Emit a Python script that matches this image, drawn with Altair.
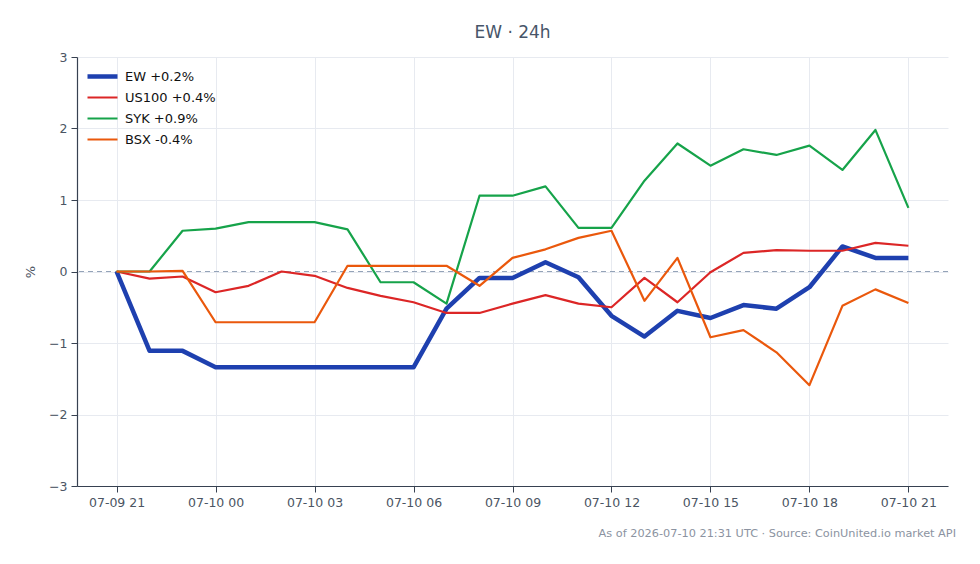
import altair as alt
import pandas as pd

# Hourly timestamps over the 24h window
times = pd.date_range("2026-07-09 21:00", periods=25, freq="h").strftime("%Y-%m-%dT%H:%M:%S").tolist()

# Percent change vs. window start
ew = [0.0, -1.11, -1.11, -1.34, -1.34, -1.34, -1.34, -1.34, -1.34, -1.34,
      -0.52, -0.09, -0.09, 0.13, -0.08, -0.62, -0.91, -0.55, -0.65, -0.47,
      -0.52, -0.22, 0.35, 0.19, 0.19]
us100 = [0.0, -0.10, -0.07, -0.29, -0.20, 0.00, -0.06, -0.23, -0.34, -0.43,
         -0.58, -0.58, -0.45, -0.33, -0.45, -0.50, -0.09, -0.43, -0.01, 0.26,
         0.30, 0.29, 0.29, 0.40, 0.36]
syk = [0.0, 0.0, 0.57, 0.60, 0.69, 0.69, 0.69, 0.59, -0.15, -0.15,
       -0.45, 1.06, 1.06, 1.19, 0.61, 0.61, 1.27, 1.79, 1.48, 1.71,
       1.63, 1.76, 1.42, 1.98, 0.89]
bsx = [0.0, 0.0, 0.01, -0.71, -0.71, -0.71, -0.71, 0.08, 0.08, 0.08,
       0.08, -0.20, 0.19, 0.31, 0.47, 0.57, -0.41, 0.19, -0.92, -0.82,
       -1.13, -1.59, -0.48, -0.25, -0.44]

labels = ["EW +0.2%", "US100 +0.4%", "SYK +0.9%", "BSX -0.4%"]
colors = ["#1e40af", "#dc2626", "#16a34a", "#ea580c"]
widths = [4.5, 2.2, 2.2, 2.2]

tick_hours = [(9, 21), (10, 0), (10, 3), (10, 6), (10, 9), (10, 12), (10, 15), (10, 18), (10, 21)]
y_ticks = [-3, -2, -1, 0, 1, 2, 3]

footer = "As of 2026-07-10 21:31 UTC \u00b7 Source: CoinUnited.io market API"

rows = []
for name, vals in zip(labels, [ew, us100, syk, bsx]):
    for t, v in zip(times, vals):
        rows.append({"time": t, "pct": v, "series": name})
df = pd.DataFrame(rows)

x_domain = [alt.DateTime(year=2026, month=7, date=9, hours=19, minutes=48),
            alt.DateTime(year=2026, month=7, date=10, hours=22, minutes=12)]
x_ticks = [alt.DateTime(year=2026, month=7, date=d, hours=h) for d, h in tick_hours]

legend = alt.Legend(
    title=None, orient="none", legendX=8, legendY=13, padding=0,
    symbolType="stroke", symbolSize=900, clipHeight=13, rowPadding=7,
    labelOffset=5, labelFontSize=13, labelColor="#111111", labelFont="DejaVu Sans",
)

zero = alt.Chart(pd.DataFrame({"v": [0]})).mark_rule(
    color="#94a3b8", strokeWidth=1, strokeDash=[5, 4]
).encode(y=alt.Y("v:Q", title="%"))

lines = alt.Chart(df).mark_line(strokeJoin="round").encode(
    x=alt.X("time:T", scale=alt.Scale(domain=x_domain),
            axis=alt.Axis(values=x_ticks, format="%m-%d %H", title=None)),
    y=alt.Y("pct:Q", scale=alt.Scale(domain=[-3, 3], nice=False),
            axis=alt.Axis(values=y_ticks, format="d", title="%")),
    color=alt.Color("series:N", scale=alt.Scale(domain=labels, range=colors), legend=legend),
    strokeWidth=alt.StrokeWidth("series:N",
                                scale=alt.Scale(type="ordinal", domain=labels, range=widths),
                                legend=legend),
)

note = alt.Chart(pd.DataFrame({"t": [footer]})).mark_text(
    align="right", baseline="middle", fontSize=11.3, color="#8b93a1", font="DejaVu Sans"
).encode(text="t:N", x=alt.value(879), y=alt.value(477))

chart = alt.layer(zero, lines, note).properties(
    width=871, height=429,
    autosize=alt.AutoSizeParams(type="none"),
    padding={"left": 77, "top": 57, "right": 32, "bottom": 78},
    title=alt.TitleParams("EW \u00b7 24h", fontSize=17, color="#475569", font="DejaVu Sans",
                          fontWeight="normal", anchor="middle", offset=9),
).configure(font="DejaVu Sans").configure_view(stroke=None).configure_axis(
    labelFont="DejaVu Sans", labelFontSize=12.5, labelColor="#4b5563",
    titleFont="DejaVu Sans", titleFontSize=13, titleColor="#4b5563", titleFontWeight="normal",
    gridColor="#e7eaf0", gridWidth=1, domainColor="#374151", domainWidth=1.2,
    tickColor="#374151", tickSize=6, labelPadding=4,
).configure_axisY(titlePadding=11)

chart.save("out.html", embed_options={"renderer": "svg", "actions": False})
